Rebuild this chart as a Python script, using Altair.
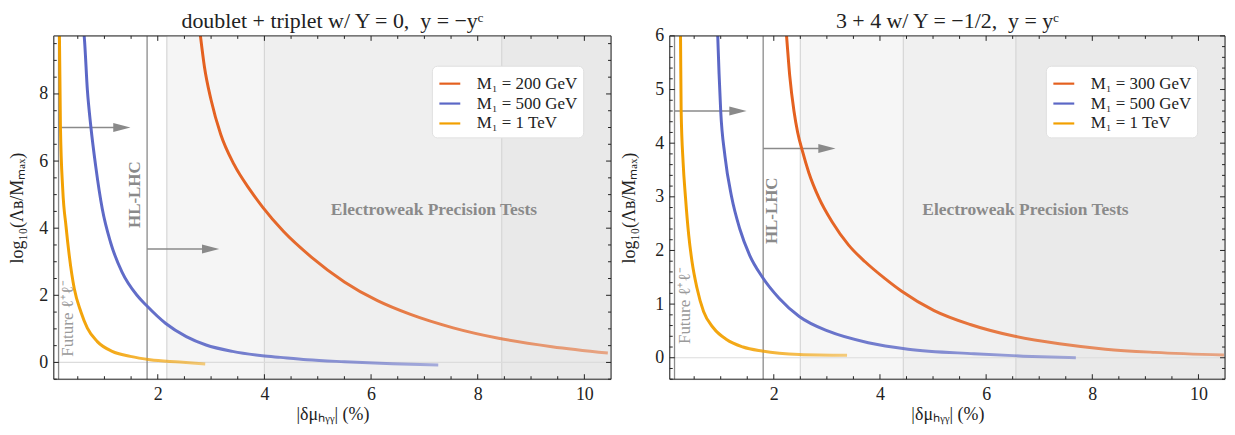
import altair as alt
import pandas as pd

# ---------------- shared ----------------
colors = ["#e4601f", "#5b67c6", "#f2a000"]
x_title = "|δμₕᵧᵧ| (%)"
y_title = "log₁₀(Λʙ/Mₘₐₓ)"
x_major = [2, 4, 6, 8, 10]
x_minor = [0.5, 1, 1.5, 2.5, 3, 3.5, 4.5, 5, 5.5, 6.5, 7, 7.5, 8.5, 9, 9.5]

# ---------------- left panel ----------------
L_title = "doublet + triplet w/ Y = 0,\u00a0\u00a0y = −yᶜ"
L_series = ["M₁ = 200 GeV", "M₁ = 500 GeV", "M₁ = 1 TeV"]
L_xdom = [0.05, 10.5]
L_ydom = [-0.5, 9.73]
L_red_x = [2.78, 2.795, 2.875, 3.0, 3.18, 3.43, 3.74, 3.97, 4.36, 4.88, 5.5, 6.12, 6.74, 7.54, 8.39, 9.39, 10.44]
L_red_y = [10.0, 9.8, 8.81, 7.82, 6.8, 5.9, 5.12, 4.62, 3.9, 3.14, 2.4, 1.84, 1.43, 1.03, 0.72, 0.47, 0.28]
L_blue_x = [0.60, 0.62, 0.68, 0.745, 0.836, 0.96, 1.114, 1.33, 1.61, 1.78, 2.15, 2.535, 2.906, 3.4, 3.96, 4.3, 4.8, 5.5, 6.4, 7.26]
L_blue_y = [10.0, 9.73, 8.12, 7.03, 5.85, 4.57, 3.58, 2.69, 2.0, 1.71, 1.16, 0.77, 0.52, 0.33, 0.2, 0.15, 0.08, 0.02, -0.04, -0.08]
L_orng_x = [0.15, 0.156, 0.175, 0.218, 0.28, 0.34, 0.434, 0.558, 0.68, 0.867, 1.145, 1.485, 1.855, 2.41, 2.89]
L_orng_y = [10.0, 9.73, 7.03, 5.16, 4.05, 3.19, 2.2, 1.51, 1.02, 0.62, 0.33, 0.18, 0.08, 0.01, -0.05]
L_band_edges = [2.17, 4.0, 8.45]
L_band_fills = ["#f5f5f5", "#efefef", "#e9e9e9"]
L_vlines = [0.14, 1.8]
L_arrow_start = [0.14, 1.8]
L_arrow_tip = [1.485, 3.15]
L_arrow_y = [7.0, 3.38]
L_hl_pos = [1.57, 5.0]
L_fut_pos = [0.31, 1.31]
L_ew_pos = [7.18, 4.54]
L_y_major = [0, 2, 4, 6, 8]
L_y_minor = [v / 2 for v in range(-1, 20) if v % 4 != 0]

# ---------------- right panel ----------------
R_title = "3 + 4 w/ Y = −1/2,\u00a0\u00a0y = yᶜ"
R_series = ["M₁ = 300 GeV", "M₁ = 500 GeV", "M₁ = 1 TeV"]
R_xdom = [0.04, 10.5]
R_ydom = [-0.4, 6.0]
R_red_x = [2.21, 2.24, 2.3, 2.38, 2.45, 2.54, 2.66, 2.85, 3.1, 3.41, 3.72, 4.09, 4.41, 5.02, 5.7, 6.54, 7.38, 8.25, 9.18, 10.48]
R_red_y = [6.35, 6.0, 5.26, 4.6, 4.2, 3.85, 3.45, 2.98, 2.53, 2.1, 1.79, 1.48, 1.24, 0.88, 0.62, 0.4, 0.26, 0.16, 0.1, 0.05]
R_blue_x = [0.933, 0.944, 0.969, 1.0, 1.08, 1.205, 1.36, 1.546, 1.78, 2.1, 2.48, 3.04, 3.78, 4.53, 5.77, 6.7, 7.69]
R_blue_y = [6.3, 6.0, 5.3, 4.6, 3.76, 3.0, 2.4, 1.91, 1.51, 1.11, 0.77, 0.49, 0.28, 0.16, 0.075, 0.03, 0.0]
R_orng_x = [0.24, 0.243, 0.255, 0.292, 0.336, 0.398, 0.46, 0.553, 0.677, 0.864, 1.11, 1.42, 1.78, 2.48, 3.38]
R_orng_y = [6.3, 6.0, 4.6, 3.64, 3.0, 2.28, 1.79, 1.3, 0.86, 0.555, 0.34, 0.2, 0.124, 0.06, 0.045]
R_band_edges = [2.5, 4.44, 6.56]
R_band_fills = ["#f6f6f6", "#f0f0f0", "#eaeaea"]
R_vlines = [0.13, 1.8]
R_arrow_start = [0.13, 1.8]
R_arrow_tip = [1.484, 3.16]
R_arrow_y = [4.6, 3.9]
R_hl_pos = [1.96, 2.74]
R_fut_pos = [0.335, 0.97]
R_ew_pos = [6.74, 2.76]
R_y_major = [0, 1, 2, 3, 4, 5, 6]
R_y_minor = [v / 5 for v in range(-2, 31) if v % 5 != 0]

FONT = "Liberation Serif"
INK = "#222222"
GRAY = "#8a8a8a"


def rgba(hexc, a):
    h = hexc.lstrip("#")
    return f"rgba({int(h[0:2],16)},{int(h[2:4],16)},{int(h[4:6],16)},{a})"


def grad(c):
    return alt.LinearGradient(
        gradient="linear", x1=0, y1=0, x2=1, y2=0,
        stops=[alt.GradientStop(offset=0, color=rgba(c, 1.0)),
               alt.GradientStop(offset=0.35, color=rgba(c, 0.9)),
               alt.GradientStop(offset=1, color=rgba(c, 0.5))])


def panel(title, series, curves, xdom, ydom, W, H, edges, fills, vlines,
          a_start, a_tip, a_y, hl_pos, fut_pos, ew_pos, y_major, y_minor,
          legend_x, ytitle_pad):
    xs = alt.Scale(domain=xdom, nice=False, zero=False)
    ys = alt.Scale(domain=ydom, nice=False, zero=False)
    x_axis = alt.Axis(
        values=x_major, title=x_title, ticks=False, domain=False, grid=False,
        labelFont=FONT, labelFontSize=18, labelColor=INK, labelPadding=6,
        titleFont=FONT, titleFontSize=18, titleFontWeight="normal", titleColor=INK, titlePadding=3)
    y_axis = alt.Axis(
        values=y_major, title=y_title, ticks=False, domain=False, grid=False,
        labelFont=FONT, labelFontSize=18, labelColor=INK, labelPadding=6,
        titleFont=FONT, titleFontSize=18, titleFontWeight="normal", titleColor=INK,
        titlePadding=ytitle_pad)

    def X(f):
        return alt.X(f, type="quantitative", scale=xs, axis=x_axis)

    def Y(f):
        return alt.Y(f, type="quantitative", scale=ys, axis=y_axis)

    layers = []
    # axes carrier
    layers.append(alt.Chart(pd.DataFrame({"x": xdom, "y": ydom})).mark_point(opacity=0, size=1).encode(
        x=X("x"), y=Y("y")))
    # shaded bands
    bands = pd.DataFrame({"x": edges, "x2": edges[1:] + [xdom[1]], "f": fills})
    layers.append(alt.Chart(bands).mark_rect().encode(
        x=X("x"), x2="x2", y=alt.value(0), y2=alt.value(H), fill=alt.Fill("f:N", scale=None)))
    layers.append(alt.Chart(pd.DataFrame({"x": edges})).mark_rule(color="#d6d6d6", strokeWidth=1.2).encode(x=X("x")))
    layers.append(alt.Chart(pd.DataFrame({"y": [0]})).mark_rule(color="#dcdcdc", strokeWidth=1.2).encode(y=Y("y")))
    layers.append(alt.Chart(pd.DataFrame({"x": vlines})).mark_rule(color=GRAY, strokeWidth=1.3).encode(x=X("x")))
    # arrows
    arr = pd.DataFrame({"x": a_start, "x2": a_tip, "y": a_y})
    layers.append(alt.Chart(arr).mark_rule(color=GRAY, strokeWidth=1.4, x2Offset=-8).encode(
        x=X("x"), x2="x2", y=Y("y")))
    layers.append(alt.Chart(arr).mark_point(shape="M-1,-0.52L1,0L-1,0.52Z", filled=True, size=300,
                                            color=GRAY, opacity=1, strokeWidth=0, xOffset=-8.5).encode(
        x=X("x2"), y=Y("y")))
    # annotations
    layers.append(alt.Chart(pd.DataFrame({"x": [hl_pos[0]], "y": [hl_pos[1]], "t": ["HL-LHC"]})).mark_text(
        font=FONT, fontSize=17, fontWeight="bold", color=GRAY, angle=270, align="center", baseline="middle").encode(
        x=X("x"), y=Y("y"), text="t:N"))
    layers.append(alt.Chart(pd.DataFrame({"x": [fut_pos[0]], "y": [fut_pos[1]], "t": ["Future ℓ⁺ℓ⁻"]})).mark_text(
        font=FONT, fontSize=17, color="#9a9a9a", angle=270, align="center", baseline="middle").encode(
        x=X("x"), y=Y("y"), text="t:N"))
    layers.append(alt.Chart(pd.DataFrame({"x": [ew_pos[0]], "y": [ew_pos[1]], "t": ["Electroweak Precision Tests"]})).mark_text(
        font=FONT, fontSize=17.5, fontWeight="bold", color=GRAY, align="center", baseline="middle").encode(
        x=X("x"), y=Y("y"), text="t:N"))
    # curves
    for (cx, cy), c in zip(curves, colors):
        layers.append(alt.Chart(pd.DataFrame({"x": cx, "y": cy})).mark_line(
            stroke=grad(c), strokeWidth=3, clip=True, interpolate="monotone").encode(x=X("x"), y=Y("y")))
    # legend carrier (single clipped point per series -> draws nothing)
    leg = pd.DataFrame({"s": series, "x": [cv[0][0] for cv in curves], "y": [cv[1][0] for cv in curves]})
    layers.append(alt.Chart(leg).mark_line(clip=True, strokeWidth=2.2).encode(
        x=X("x"), y=Y("y"),
        color=alt.Color("s:N", scale=alt.Scale(domain=series, range=colors), legend=alt.Legend(
            title=None, orient="none", legendX=legend_x, legendY=30, fillColor="white",
            strokeColor="#e0e0e0", cornerRadius=5, padding=6, symbolType="stroke", symbolSize=441,
            symbolStrokeWidth=2.2, symbolOpacity=1, labelFont=FONT, labelFontSize=17, labelColor=INK,
            labelOffset=15, rowPadding=0))))
    # frame ticks (inward)
    for vals, ln in ((x_major, 5), (x_minor, 3)):
        d = pd.DataFrame({"x": vals})
        layers.append(alt.Chart(d).mark_rule(color=INK, strokeWidth=1).encode(x=X("x"), y=alt.value(H), y2=alt.value(H - ln)))
        layers.append(alt.Chart(d).mark_rule(color=INK, strokeWidth=1).encode(x=X("x"), y=alt.value(0), y2=alt.value(ln)))
    for vals, ln in ((y_major, 5), (y_minor, 3)):
        d = pd.DataFrame({"y": vals})
        layers.append(alt.Chart(d).mark_rule(color=INK, strokeWidth=1).encode(y=Y("y"), x=alt.value(0), x2=alt.value(ln)))
        layers.append(alt.Chart(d).mark_rule(color=INK, strokeWidth=1).encode(y=Y("y"), x=alt.value(W), x2=alt.value(W - ln)))
    # frame
    layers.append(alt.Chart(pd.DataFrame({"a": [0]})).mark_rect(fillOpacity=0, stroke=INK, strokeWidth=1).encode(
        x=alt.value(0), x2=alt.value(W), y=alt.value(0), y2=alt.value(H)))
    # panel title (text above the frame)
    layers.append(alt.Chart(pd.DataFrame({"t": [title]})).mark_text(
        font=FONT, fontSize=22, color=INK, align="center", baseline="alphabetic").encode(
        x=alt.value(W / 2), y=alt.value(-8), text="t:N"))

    return alt.layer(*layers).properties(width=W, height=H)


left = panel(L_title, L_series,
             [(L_red_x, L_red_y), (L_blue_x, L_blue_y), (L_orng_x, L_orng_y)],
             L_xdom, L_ydom, 560, 345, L_band_edges, L_band_fills, L_vlines,
             L_arrow_start, L_arrow_tip, L_arrow_y, L_hl_pos, L_fut_pos, L_ew_pos,
             L_y_major, L_y_minor, 380, 12)
right = panel(R_title, R_series,
              [(R_red_x, R_red_y), (R_blue_x, R_blue_y), (R_orng_x, R_orng_y)],
              R_xdom, R_ydom, 558, 345, R_band_edges, R_band_fills, R_vlines,
              R_arrow_start, R_arrow_tip, R_arrow_y, R_hl_pos, R_fut_pos, R_ew_pos,
              R_y_major, R_y_minor, 378, 16)

chart = alt.hconcat(left, right, spacing=7).resolve_scale(
    color="independent", fill="independent", x="independent", y="independent"
).properties(padding=0).configure_view(strokeWidth=0).configure(font=FONT, background="white")

chart.save("out.html", embed_options={"renderer": "svg", "actions": False})
